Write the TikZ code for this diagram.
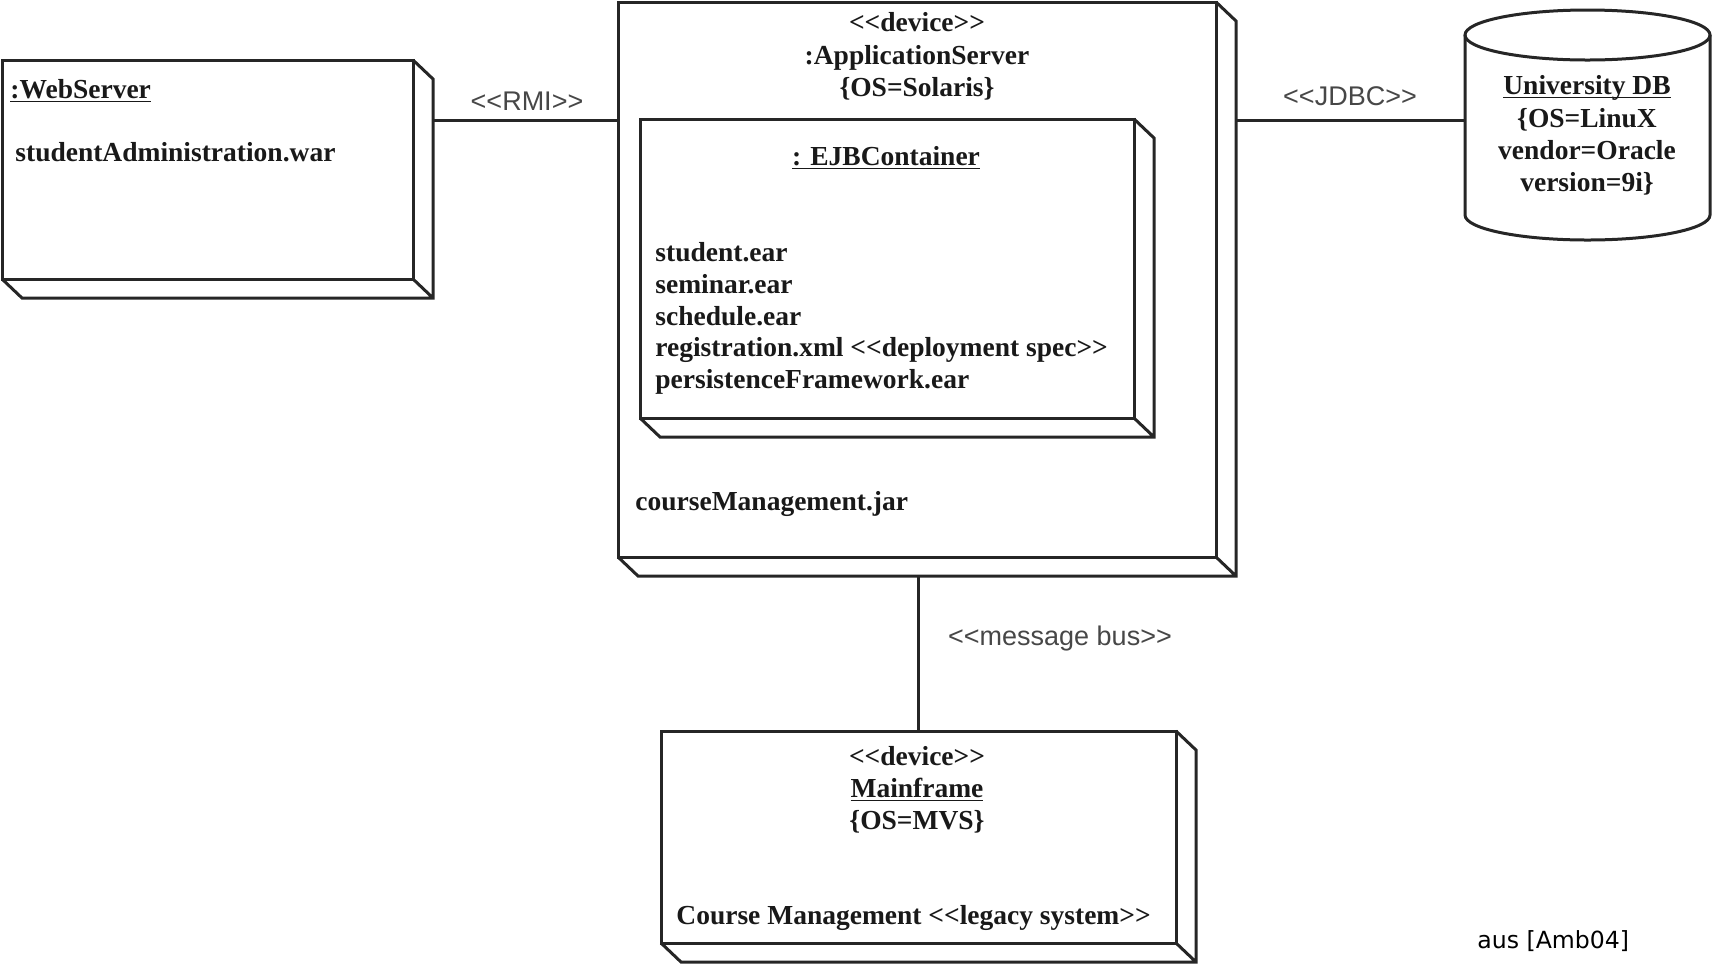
\documentclass[tikz,border=0pt]{standalone}
\usepackage{fontspec}
\newfontfamily\tnr{Liberation Serif}
\newfontfamily\arial{Liberation Sans}
\newfontfamily\tahoma{DejaVu Sans}
\newcommand\myul[1]{\setbox0=\hbox{#1}\rlap{\rule[-2.2pt]{\wd0}{0.7pt}}\box0}
\tikzset{
  line/.style={draw=black!85, line width=1.5pt, line join=miter},
  face/.style={line, fill=white, rectangle, inner sep=0pt, outer sep=0pt, anchor=north west},
  conn/.style={draw=black!85, line width=1.5pt},
  lbl/.style={inner sep=0pt, text=black!72, font=\arial\fontsize{13.5}{16}\selectfont},
  txt/.style={inner sep=0pt, text=black!90, font=\tnr\bfseries\fontsize{13.75}{16}\selectfont},
}
\newcommand\sides[1]{%
  \draw[line] (#1.north east) -- ++(20,19) -- ([shift={(20,19)}]#1.south east)
    -- ([shift={(20,19)}]#1.south west) -- (#1.south west)
    (#1.south east) -- ++(20,19);}
\begin{document}
\begin{tikzpicture}[x=0.5pt,y=-0.5pt]
\useasboundingbox (0,0) rectangle (1713,965);
% nodes (front faces)
\node[face, minimum width=205.5pt, minimum height=109.5pt] (web) at (2,60) {};
\node[face, minimum width=299pt, minimum height=277.5pt] (app) at (618,2) {};
\node[face, minimum width=247pt, minimum height=149.5pt] (ejb) at (640,119) {};
\node[face, minimum width=257.5pt, minimum height=106pt] (main) at (661,731) {};
\sides{web}
\sides{app}
\sides{ejb}
\sides{main}
% database cylinder
\node[inner sep=0pt, outer sep=0pt, minimum width=122.5pt, minimum height=110pt] (db) at (1587.5,120) {};
\draw[line, fill=white] (1465,35) -- (1465,215) arc[start angle=180, end angle=0, x radius=122.5, y radius=25] -- (1710,35);
\draw[line] (1587.5,35) ellipse [x radius=122.5, y radius=25];
% connectors
\coordinate (r1) at ([shift={(20,60)}]web.north east);
\draw[conn] (r1) -- (r1 -| app.west);
\coordinate (r2) at ([shift={(20,118)}]app.north east);
\draw[conn] (r2) -- (r2 -| db.west);
\coordinate (r3) at ([shift={(0,19)}]app.south);
\draw[conn] (r3 -| main.north) -- (main.north);
% connector labels
\node[lbl, anchor=base] (lrmi) at (527,110) {<<RMI>>};
\node[lbl, anchor=base] (ljdbc) at (1350,105) {<<JDBC>>};
\node[lbl, anchor=base] (lbus) at (1060,645) {<<message bus>>};
% web server
\node[txt, anchor=base west] (tweb) at (10,98) {\myul{:WebServer}};
\node[txt, anchor=base west] (tweb2) at (15,161) {studentAdministration.war};
% application server
\node[txt, anchor=base] (ta1) at (917,31) {<<device>>};
\node[txt, anchor=base] (ta2) at (917,64) {:ApplicationServer};
\node[txt, anchor=base] (ta3) at (917,96) {\{OS=Solaris\}};
\node[txt, anchor=base] (te0) at (886,165) {\myul{: EJBContainer}};
\node[txt, anchor=base west] (te1) at (655,261) {student.ear};
\node[txt, anchor=base west] (te2) at (655,293) {seminar.ear};
\node[txt, anchor=base west] (te3) at (655,325) {schedule.ear};
\node[txt, anchor=base west] (te4) at (655,356) {registration.xml <<deployment spec>>};
\node[txt, anchor=base west] (te5) at (655,388) {persistenceFramework.ear};
\node[txt, anchor=base west] (tcm) at (635,510) {courseManagement.jar};
% database
\node[txt, anchor=base] (td1) at (1587,94) {\myul{University DB}};
\node[txt, anchor=base] (td2) at (1587,127) {\{OS=LinuX};
\node[txt, anchor=base] (td3) at (1587,159) {vendor=Oracle};
\node[txt, anchor=base] (td4) at (1587,191) {version=9i\}};
% mainframe
\node[txt, anchor=base] (tm1) at (917,765) {<<device>>};
\node[txt, anchor=base] (tm2) at (917,797) {\myul{Mainframe}};
\node[txt, anchor=base] (tm3) at (917,829) {\{OS=MVS\}};
\node[txt, anchor=base west] (tm4) at (676,924) {Course Management <<legacy system>>};
% source
\node[inner sep=0pt, anchor=base west, font=\tahoma\fontsize{11.8}{14}\selectfont] (src) at (1477,948) {aus [Amb04]};
\end{tikzpicture}
\end{document}
